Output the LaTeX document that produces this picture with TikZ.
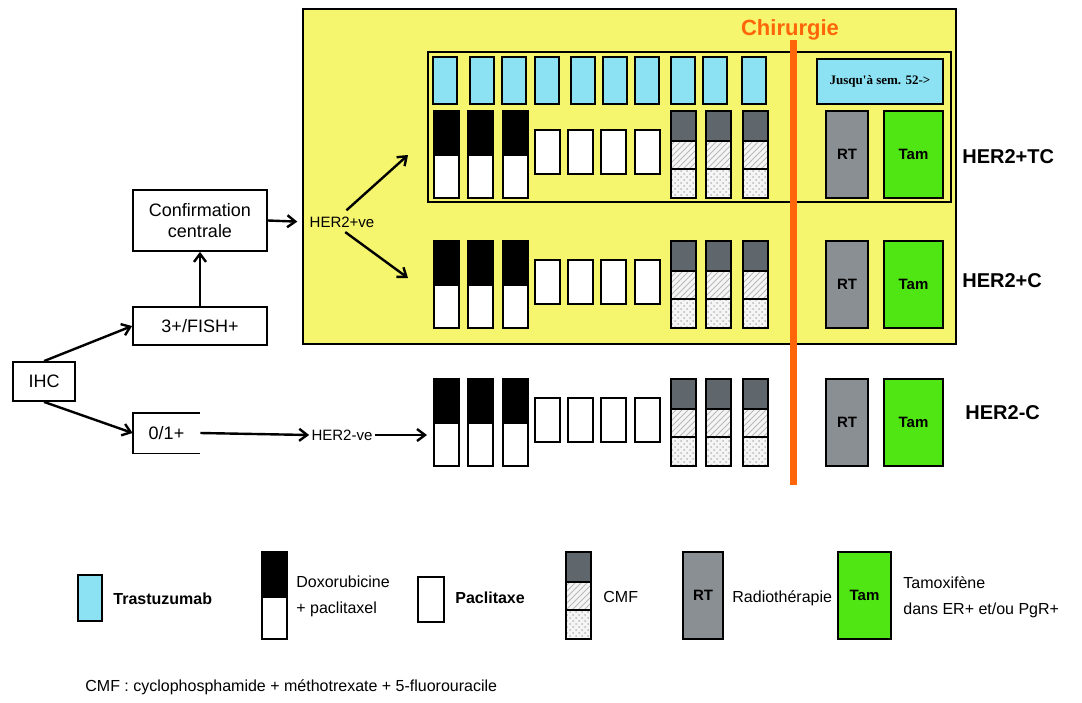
\documentclass[tikz,border=0pt]{standalone}
\usepackage{fontspec}
\setmainfont{Liberation Sans}
\newfontfamily\romfont{Liberation Serif}
\usetikzlibrary{arrows.meta,patterns}
\definecolor{fondjaune}{RGB}{245,245,110}
\definecolor{herceptin}{RGB}{140,226,242}
\definecolor{tamvert}{RGB}{80,230,20}
\definecolor{rtgris}{RGB}{138,143,148}
\definecolor{cmfgris}{RGB}{95,103,108}
\definecolor{chirorange}{RGB}{255,102,10}
% doxorubicine + paclitaxel
\newcommand{\doxpac}[2]{%
  \path[draw, fill=black, line width=1pt](#1,#2)rectangle++(25,44);
  \path[draw, fill=white, line width=1pt](#1,#2+44)rectangle++(25,43);}
% paclitaxel seul
\newcommand{\pacli}[2]{%
  \path[draw, fill=white, line width=1pt](#1,#2)rectangle++(25,44);}
% CMF
\newcommand{\cmfbox}[2]{%
  \path[draw, fill=cmfgris, line width=1pt](#1,#2)rectangle++(25,30);
  \path[preaction={fill=gray!8}, pattern=north east lines, pattern color=gray!55, draw, line width=1pt](#1,#2+30)rectangle++(25,28);
  \path[preaction={fill=gray!8}, pattern=crosshatch dots, pattern color=gray!55, draw, line width=1pt](#1,#2+58)rectangle++(25,29);}

\begin{document}
\begin{tikzpicture}[x=0.5pt, y=-0.5pt,
    flux/.style={draw, line width=0.9pt, inner sep=0pt, font=\fontsize{9}{10.5}\selectfont},
    txt/.style={inner sep=1pt, font=\fontsize{7.5}{9}\selectfont},
    arr/.style={-{Straight Barb[length=4pt,width=6pt]}, line width=1.2pt},
    rtbox/.style={draw, fill=rtgris, line width=1pt, minimum width=21pt, minimum height=43.5pt, inner sep=0pt, font=\bfseries\fontsize{7.5}{9}\selectfont},
    tambox/.style={draw, fill=tamvert, line width=1pt, minimum width=29.5pt, minimum height=43.5pt, inner sep=0pt, font=\bfseries\fontsize{7.5}{9}\selectfont},
    bras/.style={anchor=west, inner sep=0pt, font=\bfseries\fontsize{10}{12}\selectfont},
    legende/.style={anchor=west, inner sep=0pt, align=left, font=\fontsize{8}{13}\selectfont}]
  \useasboundingbox(0,0)rectangle(1082,702);
  % zone HER2+
  \path[draw, fill=fondjaune, line width=0.8pt](303,9)rectangle(956,344);
  \path[draw, line width=1pt](428,52)rectangle(951,202);
  % trastuzumab
  \foreach \x in {433,470,502,535,571,603,635,671,703,742}
    \path[draw, fill=herceptin, line width=1pt](\x,57)rectangle++(24,47);
  \node[draw, fill=herceptin, line width=1pt, minimum width=63pt, minimum height=22.5pt, inner sep=0pt,
    font=\romfont\bfseries\fontsize{6.5}{8}\selectfont] (jusqua) at (880,81.5) {Jusqu'à sem. 52->};
  % chimio, RT et Tam pour chaque bras
  \foreach \r [count=\i] in {111,241,379}{
    \doxpac{434}{\r}\doxpac{468}{\r}\doxpac{503}{\r}
    \pacli{535}{\r+19}\pacli{568}{\r+19}\pacli{601}{\r+19}\pacli{635}{\r+19}
    \cmfbox{671}{\r}\cmfbox{706}{\r}\cmfbox{743}{\r}
    \node[rtbox] (rt\i) at (847,\r+43.5) {RT};
    \node[tambox] (tam\i) at (913.5,\r+43.5) {Tam};
  }
  \node[bras] (tc) at (962,157) {HER2+TC};
  \node[bras] (c) at (962,281) {HER2+C};
  \node[bras] (moinsc) at (965,413) {HER2-C};
  % chirurgie
  \path[draw, chirorange, line width=3.5pt](793,40)to(793,485);
  \node[text=chirorange, inner sep=0pt, font=\bfseries\fontsize{11}{13}\selectfont] (chir) at (790,30) {Chirurgie};
  % algorithme
  \node[flux, minimum width=67pt, minimum height=30.5pt, align=center] (conf) at (200,220.5) {Confirmation\\centrale};
  \node[flux, minimum width=67pt, minimum height=19pt] (fish) at (200,326) {3+/FISH+};
  \node[flux, minimum width=31pt, minimum height=19.5pt] (ihc) at (44,381.5) {IHC};
  \node[inner sep=0pt, minimum width=33.5pt, minimum height=20pt, font=\fontsize{9}{10.5}\selectfont] (neg) at (166.5,433) {0/1+};
  \path[draw, line width=0.9pt](neg.north east)to(neg.north west)to(neg.south west)to(neg.south east);
  \node[txt] (pos) at (342,222) {HER2+ve};
  \node[txt] (nve) at (342,435) {HER2-ve};
  \coordinate (fleche1) at (408,155);
  \coordinate (fleche2) at (408,278);
  \coordinate (fleche3) at (427,435);
  \draw[arr](ihc.north)to(fish.west);
  \draw[arr](ihc.south)to(neg.west);
  \draw[arr](fish.north)to(conf.south);
  \draw[arr, shorten >=5pt](conf.east)to(pos.west);
  \draw[arr, shorten <=3pt](pos.north)to(fleche1);
  \draw[arr, shorten <=2pt](pos.south)to(fleche2);
  \draw[arr](neg.east)to(nve.west);
  \draw[arr](nve.east)to(fleche3);
  % legende
  \path[draw, fill=herceptin, line width=1pt](78,575)rectangle(102,621);
  \node[legende, font=\bfseries\fontsize{8}{10}\selectfont] (ltras) at (113,599) {Trastuzumab};
  \path[draw, fill=black, line width=1pt](262,552)rectangle++(25,45);
  \path[draw, fill=white, line width=1pt](262,597)rectangle++(25,42);
  \node[legende] (ldox) at (296,596) {Doxorubicine\\+ paclitaxel};
  \path[draw, fill=white, line width=1pt](418,577)rectangle(444,622);
  \node[legende, font=\bfseries\fontsize{8}{10}\selectfont] (lpac) at (455,598) {Paclitaxe};
  \cmfbox{566}{552}
  \node[legende] (lcmf) at (603,597) {CMF};
  \node[rtbox, minimum width=20pt] (lrt) at (703,595.5) {RT};
  \node[legende] (lrad) at (732,598) {Radiothérapie};
  \node[tambox, minimum width=26.5pt] (ltam) at (864.5,595.5) {Tam};
  \node[legende] (ltamox) at (903,597) {Tamoxifène\\dans ER+ et/ou PgR+};
  \node[legende] (cmfdef) at (85,687) {CMF : cyclophosphamide + méthotrexate + 5-fluorouracile};
\end{tikzpicture}
\end{document}
